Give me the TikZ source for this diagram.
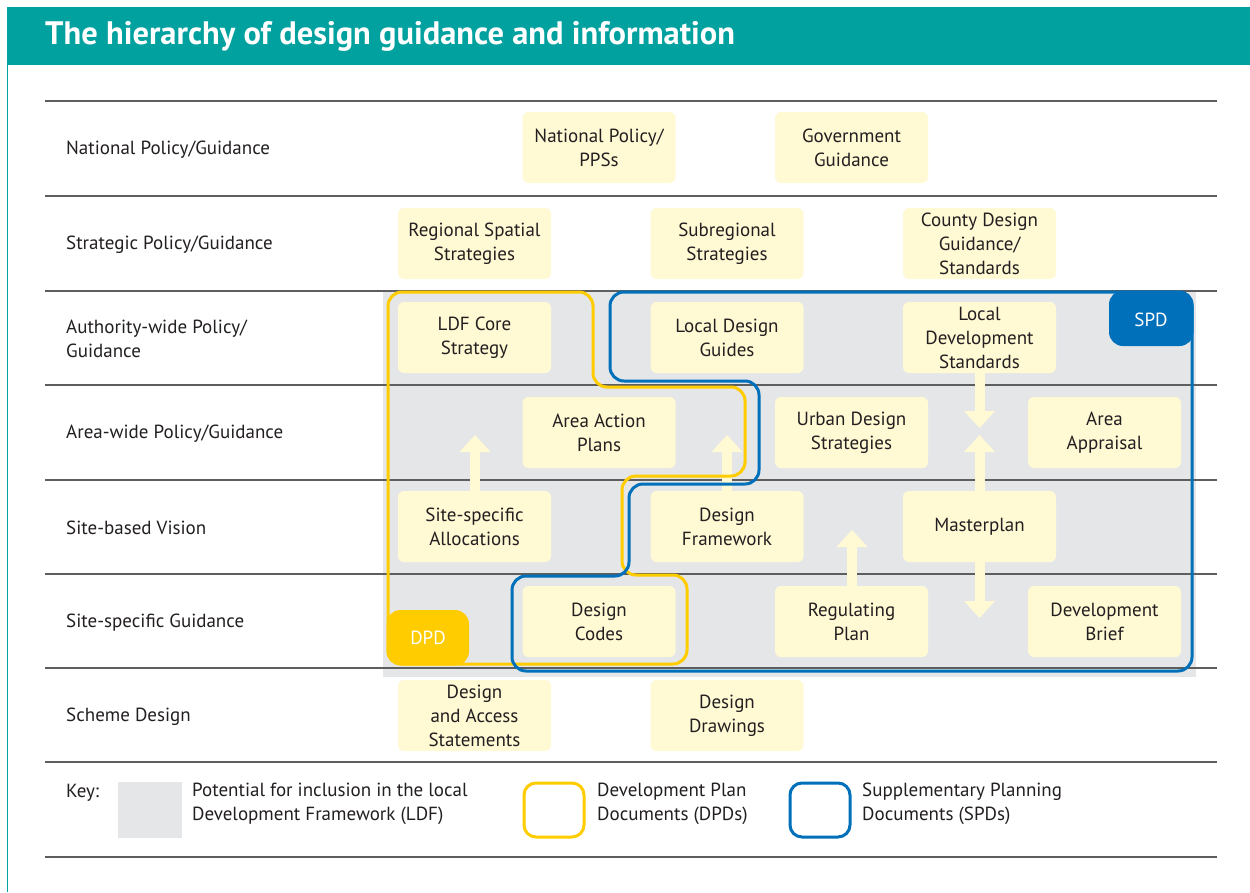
\documentclass[tikz,border=0pt]{standalone}
\usepackage{fontspec}
\setmainfont{PT Sans}
\usetikzlibrary{arrows.meta}
\definecolor{teal}{HTML}{00A19E}
\definecolor{dpdy}{HTML}{FFCC00}
\definecolor{spdb}{HTML}{0070BA}
\definecolor{boxy}{HTML}{FFF9D4}
\definecolor{ldfgray}{HTML}{E5E6E8}
\definecolor{rulegray}{HTML}{5E5E5E}
\definecolor{txt}{HTML}{231F20}
\tikzset{
  gbox/.style={fill=boxy, rounded corners=6pt, minimum width=153pt, minimum height=71pt,
    inner sep=0pt, align=center, text=txt, font=\fontsize{19}{24}\selectfont},
  rowlab/.style={anchor=west, align=left, text=txt, inner sep=0pt, font=\fontsize{19}{24}\selectfont},
  rowline/.style={draw=rulegray, line width=1.2pt},
  blockarrow/.style={draw=boxy, line width=10pt, -{Triangle[width=30pt,length=17pt]}},
  dpdline/.style={draw=dpdy, line width=3pt, rounded corners=14pt},
  spdline/.style={draw=spdb, line width=3pt, rounded corners=14pt},
  tagtext/.style={text=white, font=\fontsize{19}{24}\selectfont, inner sep=0pt},
  keytext/.style={anchor=north west, align=left, text=txt, inner sep=0pt, font=\fontsize{19}{24}\selectfont},
}
\begin{document}
\begin{tikzpicture}[x=1pt,y=-1pt]
\useasboundingbox (0,0) rectangle (1250,892);
\fill[white] (0,0) rectangle (1250,892);
% header
\fill[teal] (7,7) rectangle (1250,65);
\draw[teal, line width=1pt] (7.5,65) -- (7.5,892);
\node[anchor=west, text=white, inner sep=0pt, font=\fontsize{32.5}{36}\bfseries\selectfont] (title) at (45,36) {The hierarchy of design guidance and information};
% LDF grey area
\fill[ldfgray] (383,291) rectangle (1196,677);
% row lines
\foreach \yy in {101,196,291,385,480,574,668,762,857}
  \draw[rowline] (45,\yy) -- (1217,\yy);
% row labels
\node[rowlab] (r1) at (66,150) {National Policy/Guidance};
\node[rowlab] (r2) at (66,245) {Strategic Policy/Guidance};
\node[rowlab] (r3) at (66,339) {Authority-wide Policy/\\Guidance};
\node[rowlab] (r4) at (66,434) {Area-wide Policy/Guidance};
\node[rowlab] (r5) at (66,528) {Site-based Vision};
\node[rowlab] (r6) at (66,623) {Site-specific Guidance};
\node[rowlab] (r7) at (66,717) {Scheme Design};
% boxes
\node[gbox] (npp) at (599,147.5) {National Policy/\\PPSs};
\node[gbox] (gg) at (851.5,147.5) {Government\\Guidance};
\node[gbox] (rss) at (474.5,243.5) {Regional Spatial\\Strategies};
\node[gbox] (sub) at (727,243.5) {Subregional\\Strategies};
\node[gbox] (cdg) at (979.5,243.5) {County Design\\Guidance/\\Standards};
\node[gbox] (ldf) at (474.5,337.5) {LDF Core\\Strategy};
\node[gbox] (ldg) at (727,337.5) {Local Design\\Guides};
\node[gbox] (lds) at (979.5,337.5) {Local\\Development\\Standards};
\node[gbox] (aap) at (599,432.5) {Area Action\\Plans};
\node[gbox] (uds) at (851.5,432.5) {Urban Design\\Strategies};
\node[gbox] (aa) at (1104.5,432.5) {Area\\Appraisal};
\node[gbox] (ssa) at (474.5,526.5) {Site-specific\\Allocations};
\node[gbox] (df) at (727,526.5) {Design\\Framework};
\node[gbox] (mp) at (979.5,526.5) {Masterplan};
\node[gbox] (dc) at (599,621.5) {Design\\Codes};
\node[gbox] (rp) at (851.5,621.5) {Regulating\\Plan};
\node[gbox] (db) at (1104.5,621.5) {Development\\Brief};
\node[gbox] (das) at (474.5,715.5) {Design\\and Access\\Statements};
\node[gbox] (dd) at (727,715.5) {Design\\Drawings};
% arrows
\coordinate (t1) at (475,435);
\coordinate (t2) at (727,435);
\coordinate (t3) at (979.5,428);
\coordinate (t4) at (979.5,435);
\coordinate (t5) at (979.5,618);
\coordinate (t6) at (852,530);
\draw[blockarrow] (ssa.north -| t1) -- (t1);
\draw[blockarrow] (df.north -| t2) -- (t2);
\draw[blockarrow] (lds.south) -- (t3);
\draw[blockarrow] (mp.north) -- (t4);
\draw[blockarrow] (mp.south) -- (t5);
\draw[blockarrow] (rp.north -| t6) -- (t6);
% DPD outline
\draw[dpdline] (388,292) -- (593,292) -- (593,387) -- (745,387) -- (745,476) -- (622,476) -- (622,575) -- (687,575) -- (687,664) -- (388,664) -- cycle;
% SPD outline
\draw[spdline] (610,292) -- (1192,292) -- (1192,671) -- (512,671) -- (512,576) -- (629,576) -- (629,484) -- (759,484) -- (759,381) -- (610,381) -- cycle;
% tags
\fill[dpdy, rounded corners=14pt] (386.5,610) rectangle (469,665.5);
\node[tagtext] (dpd) at (428,638) {DPD};
\fill[spdb, rounded corners=14pt] (1109,290.5) rectangle (1193.5,346);
\node[tagtext] (spd) at (1151,320) {SPD};
% key
\node[keytext, anchor=west] (key) at (66,793) {Key:};
\fill[ldfgray] (118,782) rectangle (182,838);
\node[keytext] (k1) at (192,783) {Potential for inclusion in the local\\Development Framework (LDF)};
\draw[dpdy, line width=3pt, rounded corners=12pt] (524,783) rectangle (584,837);
\node[keytext] (k2) at (597,783) {Development Plan\\Documents (DPDs)};
\draw[spdb, line width=3pt, rounded corners=12pt] (790,783) rectangle (850,837);
\node[keytext] (k3) at (862,783) {Supplementary Planning\\Documents (SPDs)};
\end{tikzpicture}
\end{document}
